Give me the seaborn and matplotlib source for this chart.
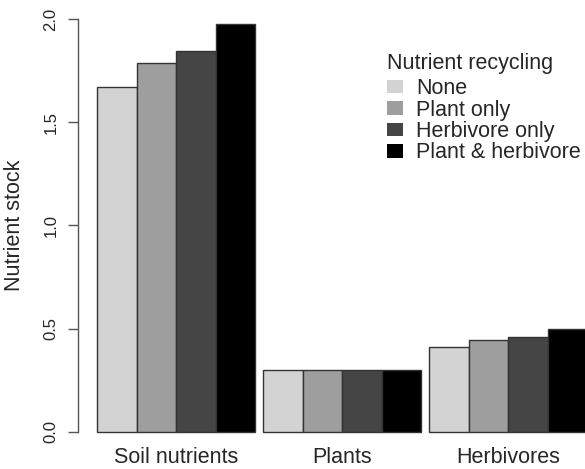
import matplotlib
matplotlib.use("Agg")
import matplotlib.pyplot as plt
import seaborn as sns
import pandas as pd
from matplotlib.patches import Patch

# ---- data ----
compartments = ["Soil nutrients", "Plants", "Herbivores"]
scenarios = ["None", "Plant only", "Herbivore only", "Plant & herbivore"]
none_vals = [1.67, 0.30, 0.41]
plant_only_vals = [1.785, 0.30, 0.444]
herb_only_vals = [1.845, 0.30, 0.461]
both_vals = [1.974, 0.30, 0.50]
colors = ["#D3D3D3", "#9E9E9E", "#454545", "#000000"]
yticks = [0.0, 0.5, 1.0, 1.5, 2.0]
ytick_labels = ["0.0", "0.5", "1.0", "1.5", "2.0"]

series = [none_vals, plant_only_vals, herb_only_vals, both_vals]
rows = []
for s, vals in zip(scenarios, series):
    for c, v in zip(compartments, vals):
        rows.append({"compartment": c, "recycling": s, "stock": v})
df = pd.DataFrame(rows)

sns.set_style("white")
plt.rcParams["font.family"] = ["Liberation Sans", "DejaVu Sans"]

fig = plt.figure(figsize=(5.85, 4.69), dpi=100)
ax = fig.add_axes([78 / 585, (469 - 448.5) / 469, 1 - 78 / 585, (448.5 - 2.5) / 469])

sns.barplot(data=df, x="compartment", y="stock", hue="recycling",
            order=compartments, hue_order=scenarios, palette=colors,
            saturation=1, width=4 / 4.2, edgecolor="#333333", linewidth=1.0,
            errorbar=None, ax=ax, legend=False)

ax.set_xlim(-0.5925, 2.4636)
ax.set_ylim(-0.08, 2.08)

for sp in ["top", "right", "bottom"]:
    ax.spines[sp].set_visible(False)
ax.spines["left"].set_bounds(0, 2)
ax.spines["left"].set_color("#555555")
ax.spines["left"].set_linewidth(1.0)

ax.set_yticks(yticks)
ax.set_yticklabels(ytick_labels, rotation=90, va="center", fontsize=12)
ax.tick_params(axis="y", length=7, width=1.0, color="#555555", pad=7, left=True)
ax.tick_params(axis="x", length=0, pad=-1, labelsize=15.5)

ax.set_xlabel("")
ax.set_ylabel("Nutrient stock", fontsize=15.5, labelpad=13)

handles = [Patch(facecolor=c, edgecolor="none") for c in colors]
leg = ax.legend(handles, scenarios, title="Nutrient recycling",
                loc="upper left", bbox_to_anchor=(387 / 585, 1 - 53 / 469),
                bbox_transform=fig.transFigure,
                frameon=False, fontsize=15.5, title_fontsize=15.5,
                handlelength=0.72, handleheight=0.58, handletextpad=0.62,
                labelspacing=0.02, borderpad=0, borderaxespad=0,
                alignment="left")
leg._legend_box.sep = 3

fig.savefig("out.png", dpi=100)
